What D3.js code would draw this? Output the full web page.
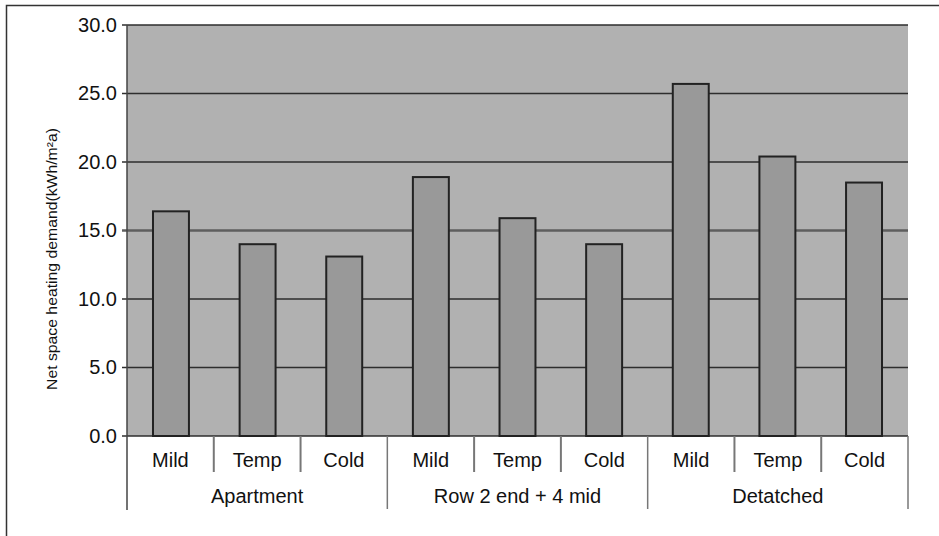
<!DOCTYPE html>
<html>
<head>
<meta charset="utf-8">
<script src="https://cdn.jsdelivr.net/npm/d3@7"></script>
<style>
body { margin: 0; background: #fff; }
text { font-family: "Liberation Sans", Arial, sans-serif; }
</style>
</head>
<body>
<div id="chart"></div>
<script>
// chart values
var groups = ["Apartment", "Row 2 end + 4 mid", "Detatched"];
var climates = ["Mild", "Temp", "Cold"];
var apartment = [16.4, 14.0, 13.1];
var rowHouse = [18.9, 15.9, 14.0];
var detatched = [25.7, 20.4, 18.5];
var yTicks = [0, 5, 10, 15, 20, 25, 30];

var svgWidth = 939;
var svgHeight = 536;
var plotLeft = 127;
var plotRight = 908;
var plotTop = 25;
var plotBottom = 436;

var seriesList = [apartment, rowHouse, detatched];
var data = [];
groups.forEach((g, gi) => {
    climates.forEach((c, ci) => {
        data.push({group: g, climate: c, key: g + "|" + c, value: seriesList[gi][ci]});
    });
});

var svg = d3.select("#chart")
    .append("svg")
    .attr("width", svgWidth)
    .attr("height", svgHeight);

// outer frame
svg.append("path")
    .attr("d", "M6.5,536 V5.5 H939")
    .attr("fill", "none")
    .attr("stroke", "#333")
    .attr("stroke-width", 1.5);

var xScale = d3.scaleBand()
    .domain(data.map(d => d.key))
    .range([plotLeft, plotRight])
    .paddingInner(0.585)
    .paddingOuter(0.3);

var groupScale = d3.scaleBand()
    .domain(groups)
    .range([plotLeft, plotRight]);

var yScale = d3.scaleLinear()
    .domain([0, 30])
    .range([plotBottom, plotTop]);

// plot background
svg.append("rect")
    .attr("x", plotLeft)
    .attr("y", plotTop)
    .attr("width", plotRight - plotLeft)
    .attr("height", plotBottom - plotTop)
    .attr("fill", "#b1b1b1");

// grid lines
svg.append("g")
    .selectAll("line")
    .data(yTicks)
    .enter()
    .append("line")
    .attr("x1", plotLeft - 5)
    .attr("x2", plotRight)
    .attr("y1", d => yScale(d))
    .attr("y2", d => yScale(d))
    .attr("stroke", d => d == 15 ? "#5e5e5e" : "#2e2e2e")
    .attr("stroke-width", d => d == 15 ? 2.5 : 1.5);

// y axis labels
var yAxisCall = d3.axisLeft(yScale)
    .tickValues(yTicks)
    .tickFormat(d3.format(".1f"))
    .tickSize(0)
    .tickPadding(10);
var yAxisGroup = svg.append("g")
    .attr("transform", `translate(${plotLeft},0)`)
    .call(yAxisCall);
yAxisGroup.select(".domain").remove();
yAxisGroup.selectAll("text")
    .attr("font-size", "20px")
    .attr("font-family", "Liberation Sans, Arial, sans-serif")
    .attr("fill", "#111");

// bars
svg.append("g")
    .selectAll("rect")
    .data(data)
    .enter()
    .append("rect")
    .attr("x", d => xScale(d.key))
    .attr("y", d => yScale(d.value))
    .attr("width", xScale.bandwidth())
    .attr("height", d => plotBottom - yScale(d.value))
    .attr("fill", "#999999")
    .attr("stroke", "#222")
    .attr("stroke-width", 2);

// left edge of plot
svg.append("line")
    .attr("x1", plotLeft).attr("x2", plotLeft)
    .attr("y1", plotTop).attr("y2", 510)
    .attr("stroke", "#444")
    .attr("stroke-width", 1.5);

// bottom category axis
var step = (plotRight - plotLeft) / data.length;
var cats = svg.append("g");
data.forEach((d, i) => {
    var x0 = plotLeft + step * i;
    cats.append("text")
        .attr("x", x0 + step / 2)
        .attr("y", 467)
        .attr("text-anchor", "middle")
        .attr("font-size", "20px")
        .attr("fill", "#111")
        .text(d.climate);
    if (i > 0 && i % 3 != 0) {
        cats.append("line")
            .attr("x1", x0).attr("x2", x0)
            .attr("y1", plotBottom).attr("y2", 472)
            .attr("stroke", "#777")
            .attr("stroke-width", 2);
    }
});
groups.forEach((g, gi) => {
    cats.append("text")
        .attr("x", groupScale(g) + groupScale.bandwidth() / 2)
        .attr("y", 503)
        .attr("text-anchor", "middle")
        .attr("font-size", "20px")
        .attr("fill", "#111")
        .text(g);
    cats.append("line")
        .attr("x1", groupScale(g) + groupScale.bandwidth())
        .attr("x2", groupScale(g) + groupScale.bandwidth())
        .attr("y1", plotBottom).attr("y2", 509)
        .attr("stroke", "#777")
        .attr("stroke-width", 1.5);
});

// y axis title
svg.append("text")
    .attr("transform", "rotate(-90)")
    .attr("x", -259)
    .attr("y", 57)
    .attr("text-anchor", "middle")
    .attr("font-size", "15px")
    .attr("textLength", 262)
    .attr("lengthAdjust", "spacingAndGlyphs")
    .attr("fill", "#111")
    .text("Net space heating demand(kWh/m²a)");
</script>
</body>
</html>
